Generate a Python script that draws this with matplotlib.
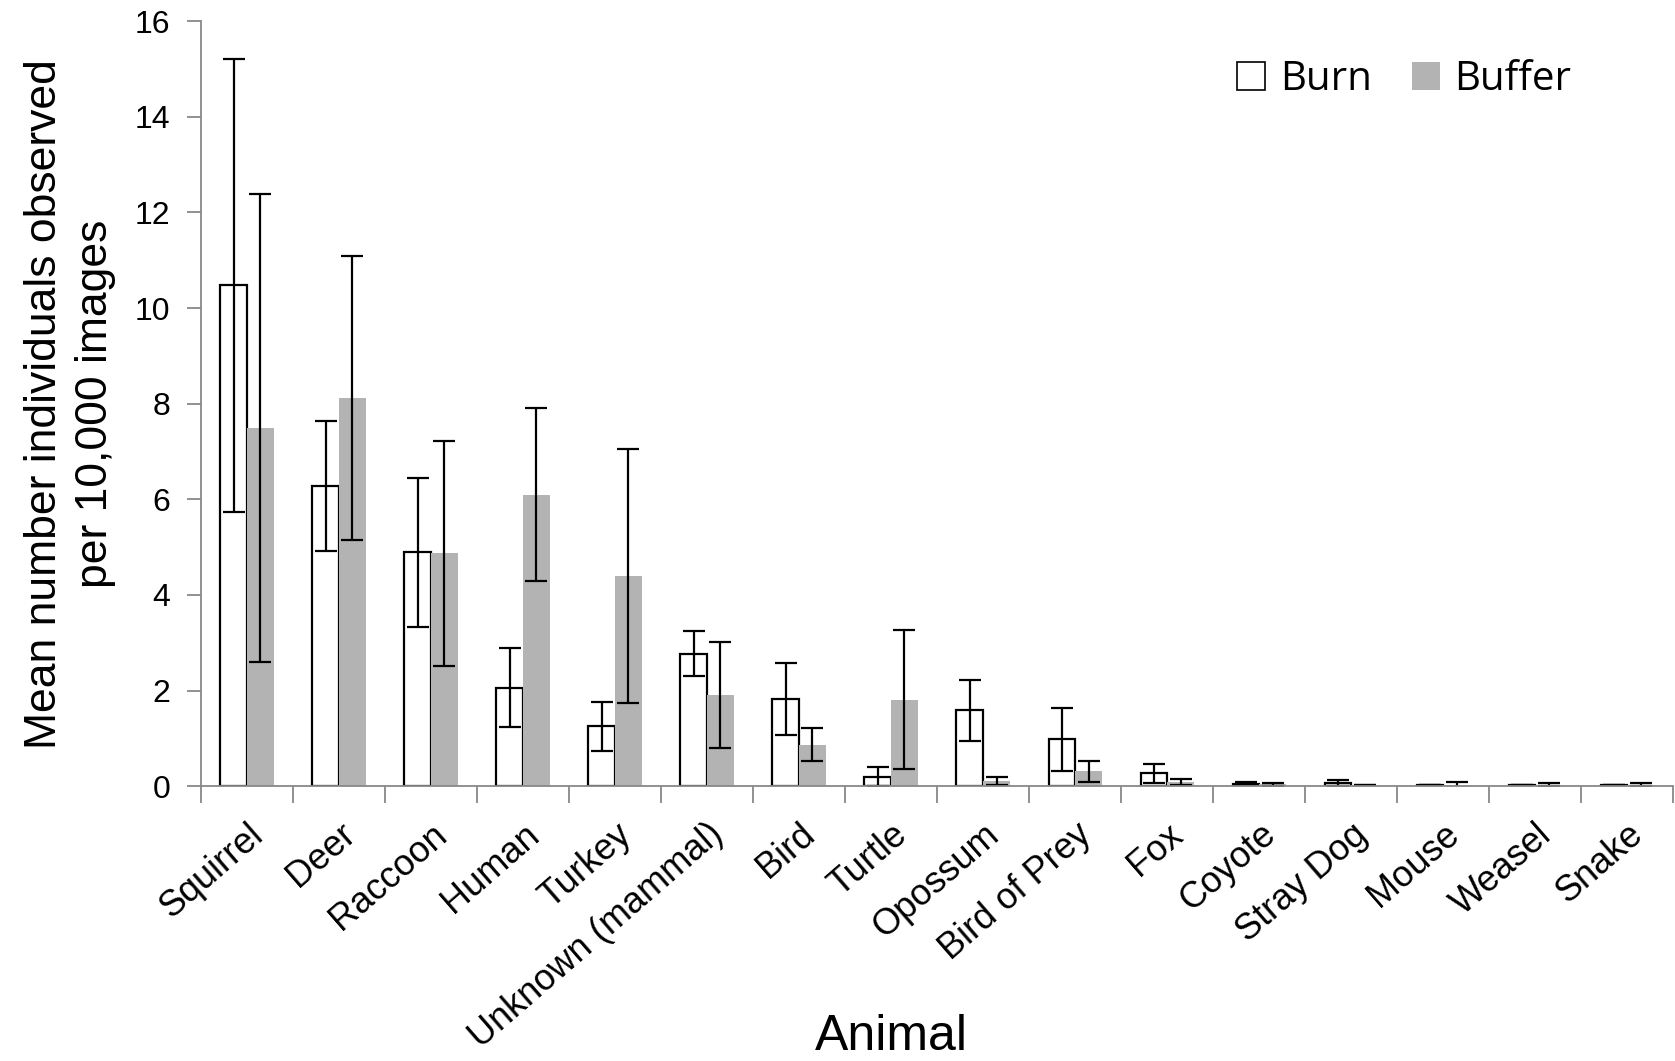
import numpy as np
import matplotlib
matplotlib.use('Agg')
import matplotlib.pyplot as plt
from matplotlib.patches import Patch

animals = ['Squirrel', 'Deer', 'Raccoon', 'Human', 'Turkey', 'Unknown (mammal)',
           'Bird', 'Turtle', 'Opossum', 'Bird of Prey', 'Fox', 'Coyote',
           'Stray Dog', 'Mouse', 'Weasel', 'Snake']
burn = [10.48, 6.28, 4.89, 2.06, 1.25, 2.77, 1.83, 0.20, 1.59, 0.98, 0.27,
        0.05, 0.07, 0.02, 0.02, 0.02]
burn_err = [4.74, 1.36, 1.56, 0.83, 0.52, 0.47, 0.75, 0.20, 0.64, 0.66, 0.20,
            0.03, 0.06, 0.0, 0.0, 0.0]
buffer = [7.49, 8.11, 4.87, 6.10, 4.40, 1.90, 0.87, 1.81, 0.11, 0.31, 0.09,
          0.04, 0.02, 0.03, 0.03, 0.03]
buffer_err = [4.89, 2.97, 2.36, 1.81, 2.65, 1.11, 0.35, 1.45, 0.08, 0.22,
              0.06, 0.03, 0.0, 0.06, 0.03, 0.03]

plt.rcParams['font.family'] = ['Liberation Sans', 'DejaVu Sans']

fig = plt.figure(figsize=(16.75, 10.61), dpi=100)
ax = fig.add_axes([0.12, 0.259, 0.879, 0.721])

x = np.arange(len(animals))
w = 0.29
ekw = dict(ecolor='black', elinewidth=1.6, capsize=8, capthick=1.6)
ax.bar(x - w / 2, burn, w, color='white', edgecolor='black', linewidth=1.6,
       yerr=burn_err, error_kw=ekw, zorder=2)
ax.bar(x + w / 2, buffer, w, color='#b3b3b3', edgecolor='none',
       yerr=buffer_err, error_kw=ekw, zorder=2)

ax.set_xlim(-0.5, len(animals) - 0.5)
ax.set_ylim(0, 16)
ax.set_yticks(np.arange(0, 17, 2))
ax.tick_params(axis='y', labelsize=23, direction='out', length=10,
               color='#888888', width=1.3, pad=12)

# category labels centred, tick marks on group boundaries
ax.set_xticks(x)
ax.set_xticklabels(animals, rotation=41, ha='right', rotation_mode='anchor',
                   fontsize=26)
ax.tick_params(axis='x', length=0, pad=22)
ax.set_xticks(np.arange(-0.5, len(animals)), minor=True)
ax.tick_params(axis='x', which='minor', length=12, color='#888888', width=1.3)

for side in ['top', 'right']:
    ax.spines[side].set_visible(False)
for side in ['left', 'bottom']:
    ax.spines[side].set_color('#888888')
    ax.spines[side].set_linewidth(1.3)

ax.set_ylabel('Mean number individuals observed\nper 10,000 images',
              fontsize=32, linespacing=1.3)
ax.yaxis.set_label_coords(-0.058, 0.5)
ax.set_xlabel('Animal', fontsize=36)
ax.xaxis.set_label_coords(0.469, -0.298)

handles = [Patch(facecolor='white', edgecolor='black', linewidth=1.2),
           Patch(facecolor='#b3b3b3', edgecolor='none')]
fig.legend(handles, ['Burn', 'Buffer'], loc='center left', ncol=2,
           frameon=False, prop={'family': 'Open Sans', 'size': 29},
           handlelength=0.7, handleheight=0.7, handletextpad=0.36,
           columnspacing=1.0, borderpad=0, borderaxespad=0,
           bbox_to_anchor=(0.7385, 0.9246))

fig.savefig('out.png', dpi=100)
